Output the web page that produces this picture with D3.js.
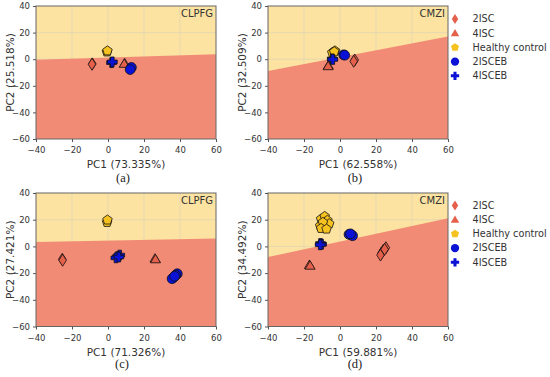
<!DOCTYPE html>
<html><head><meta charset="utf-8">
<script src="https://cdn.jsdelivr.net/npm/d3@7"></script>
<style>body{margin:0;background:#fff}svg{display:block}</style>
</head><body><svg id="c" width="550" height="377"></svg>
<script>
const groups = ["2ISC","4ISC","Healthy control","2ISCEB","4ISCEB"];
const groupColors = ["#E5604A","#E5604A","#F6C21F","#0B12D6","#0B12D6"];
const xTicks = [-40,-20,0,20,40,60];
const yTicks = [40,20,0,-20,-40,-60];
const panelTitles = ["CLPFG","CMZI","CLPFG","CMZI"];
const captions = ["(a)","(b)","(c)","(d)"];
const xLabels = ["PC1 (73.335%)","PC1 (62.558%)","PC1 (71.326%)","PC1 (59.881%)"];
const yLabels = ["PC2 (25.518%)","PC2 (32.509%)","PC2 (27.421%)","PC2 (34.492%)"];
// decision boundary [y at x=-40, y at x=60]
const boundaries = [[-0.5,3.7],[-8.8,17],[3.3,6.0],[-8,21]];
// points: [group index, x, y]
const pointsA = [[0,-8.7,-3.5],[0,-8.9,-3.8],[1,9.3,-3.0],[1,9.0,-3.4],[2,-0.6,5.5],[2,-0.3,6.3],[3,13.0,-6.2],[3,12.3,-7.8],[4,2.0,-2.6],[4,2.4,-2.0]];
const pointsB = [[0,8.2,-0.6],[0,7.6,-1.6],[1,-6.5,-4.7],[1,-6.6,-5.2],[2,-4.3,5.0],[2,-2.8,6.3],[2,-3.2,5.6],[3,2.0,3.3],[3,2.6,3.0],[4,-4.3,0.3],[4,-4.0,-0.2]];
const pointsC = [[0,-25.4,-9.6],[0,-25.2,-10.4],[1,26.1,-9.0],[1,26.4,-9.6],[2,-0.5,18.0],[2,-0.3,19.8],[4,6.5,-6.5],[4,5.3,-7.6],[4,4.4,-8.6],[4,6.0,-8.0],[3,38.5,-20.5],[3,37.6,-21.5],[3,36.6,-23.0],[3,35.6,-24.2],[3,37.0,-22.4]];
const pointsD = [[0,23.0,-5.0],[0,24.0,-3.0],[0,25.5,-1.0],[0,22.5,-6.5],[0,24.8,-2.2],[1,-17.0,-13.8],[1,-16.6,-14.4],
  [2,-10.5,20.5],[2,-8.5,22.5],[2,-7.0,19.5],[2,-11.0,15.5],[2,-8.0,15.0],[2,-6.0,17.0],[2,-9.5,18.0],[2,-10.5,13.5],[2,-7.5,13.0],
  [3,5.0,9.0],[3,6.3,8.6],[3,7.0,8.0],[3,5.8,9.4],[4,-10.8,2.2],[4,-10.2,1.6],[4,-11.0,1.2]];
const allPoints = [pointsA,pointsB,pointsC,pointsD];

const panels = [
  {x0:36,x1:216,y0:6,y1:139,cx:123,cy:182},
  {x0:268,x1:448,y0:6,y1:139,cx:355,cy:182},
  {x0:36,x1:216,y0:193,y1:326.5,cx:122,cy:368},
  {x0:268,x1:448,y0:193,y1:326.5,cx:355,cy:368}
];
const svg = d3.select("#c");

function markerPath(g, s){
  if(g===0){ // thin diamond
    return `M0,${-6*s}L${3.8*s},0L0,${6*s}L${-3.8*s},0Z`;
  } else if(g===1){
    return `M0,${-4.8*s}L${5*s},${3.6*s}L${-5*s},${3.6*s}Z`;
  } else if(g===2){
    const r=5*s; let p="";
    for(let i=0;i<5;i++){const a=-Math.PI/2+i*2*Math.PI/5; p+=(i?"L":"M")+(r*Math.cos(a)).toFixed(2)+","+(r*Math.sin(a)).toFixed(2);} return p+"Z";
  } else if(g===3){
    const r=4.9*s; return `M${-r},0A${r},${r} 0 1,0 ${r},0A${r},${r} 0 1,0 ${-r},0Z`;
  } else {
    const a=1.8*s,b=4.9*s;
    return `M${-a},${-b}H${a}V${-a}H${b}V${a}H${a}V${b}H${-a}V${a}H${-b}V${-a}H${-a}Z`;
  }
}

panels.forEach((p,i)=>{
  const x = d3.scaleLinear().domain([-40,60]).range([p.x0,p.x1]);
  const y = d3.scaleLinear().domain([-60,40]).range([p.y1,p.y0]);
  const g = svg.append("g");
  g.append("rect").attr("x",p.x0).attr("y",p.y0).attr("width",p.x1-p.x0).attr("height",p.y1-p.y0).attr("fill","#FDE3A1");
  g.selectAll(".gx").data(xTicks.slice(1,-1)).join("line").attr("x1",d=>x(d)).attr("x2",d=>x(d)).attr("y1",p.y0).attr("y2",p.y1).attr("stroke","#ddd2b6").attr("stroke-width",0.7);
  g.selectAll(".gy").data(yTicks.slice(1,-1)).join("line").attr("y1",d=>y(d)).attr("y2",d=>y(d)).attr("x1",p.x0).attr("x2",p.x1).attr("stroke","#ddd2b6").attr("stroke-width",0.7);
  const b = boundaries[i];
  g.append("path").attr("d",`M${x(-40)},${y(b[0])}L${x(60)},${y(b[1])}L${x(60)},${y(-60)}L${x(-40)},${y(-60)}Z`).attr("fill","#F28B76");
  g.selectAll(".pt").data(allPoints[i]).join("path")
    .attr("d",d=>markerPath(d[0],1))
    .attr("transform",d=>`translate(${x(d[1])},${y(d[2])})`)
    .attr("fill",d=>groupColors[d[0]]).attr("stroke","#111").attr("stroke-width",0.8);
  g.append("rect").attr("x",p.x0).attr("y",p.y0).attr("width",p.x1-p.x0).attr("height",p.y1-p.y0).attr("fill","none").attr("stroke","#666").attr("stroke-width",1);
  const ax = d3.axisBottom(x).tickValues(xTicks).tickSize(3).tickFormat(d=>d<0?"\u2212"+Math.abs(d):d);
  const ay = d3.axisLeft(y).tickValues(yTicks).tickSize(3).tickFormat(d=>d<0?"\u2212"+Math.abs(d):d);
  const gx = g.append("g").attr("transform",`translate(0,${p.y1})`).call(ax);
  const gy = g.append("g").attr("transform",`translate(${p.x0},0)`).call(ay);
  [gx,gy].forEach(a=>{a.select(".domain").remove();a.selectAll("line").attr("stroke","#555");a.selectAll("text").attr("fill","#333").style("font-family","DejaVu Sans").style("font-size","8.5px");});
  gx.selectAll("text").attr("dy","0.95em");
  g.append("text").attr("x",(p.x0+p.x1)/2).attr("y",p.y1+29).attr("text-anchor","middle").attr("fill","#333").style("font-family","DejaVu Sans").style("font-size","10.5px").text(xLabels[i]);
  g.append("text").attr("transform",`translate(${p.x0-22},${(p.y0+p.y1)/2}) rotate(-90)`).attr("text-anchor","middle").attr("fill","#333").style("font-family","DejaVu Sans").style("font-size","10.5px").text(yLabels[i]);
  g.append("text").attr("x",p.x1-3).attr("y",p.y0+11).attr("text-anchor","end").attr("fill","#333").style("font-family","DejaVu Sans").style("font-size","10px").text(panelTitles[i]);
  g.append("text").attr("x",p.cx).attr("y",p.cy).attr("text-anchor","middle").attr("fill","#222").style("font-family","Liberation Serif").style("font-size","12.5px").text(captions[i]);
});

[19,205.5].forEach(ly=>{
  const lg = svg.append("g");
  groups.forEach((name,k)=>{
    const yy = ly + k*14.2;
    lg.append("path").attr("d",markerPath(k,0.85)).attr("transform",`translate(455,${yy})`).attr("fill",groupColors[k]);
    lg.append("text").attr("x",472.5).attr("y",yy).attr("dy","0.35em").attr("fill","#333").style("font-family","DejaVu Sans").style("font-size","9.7px").text(name);
  });
});
</script></body></html>
